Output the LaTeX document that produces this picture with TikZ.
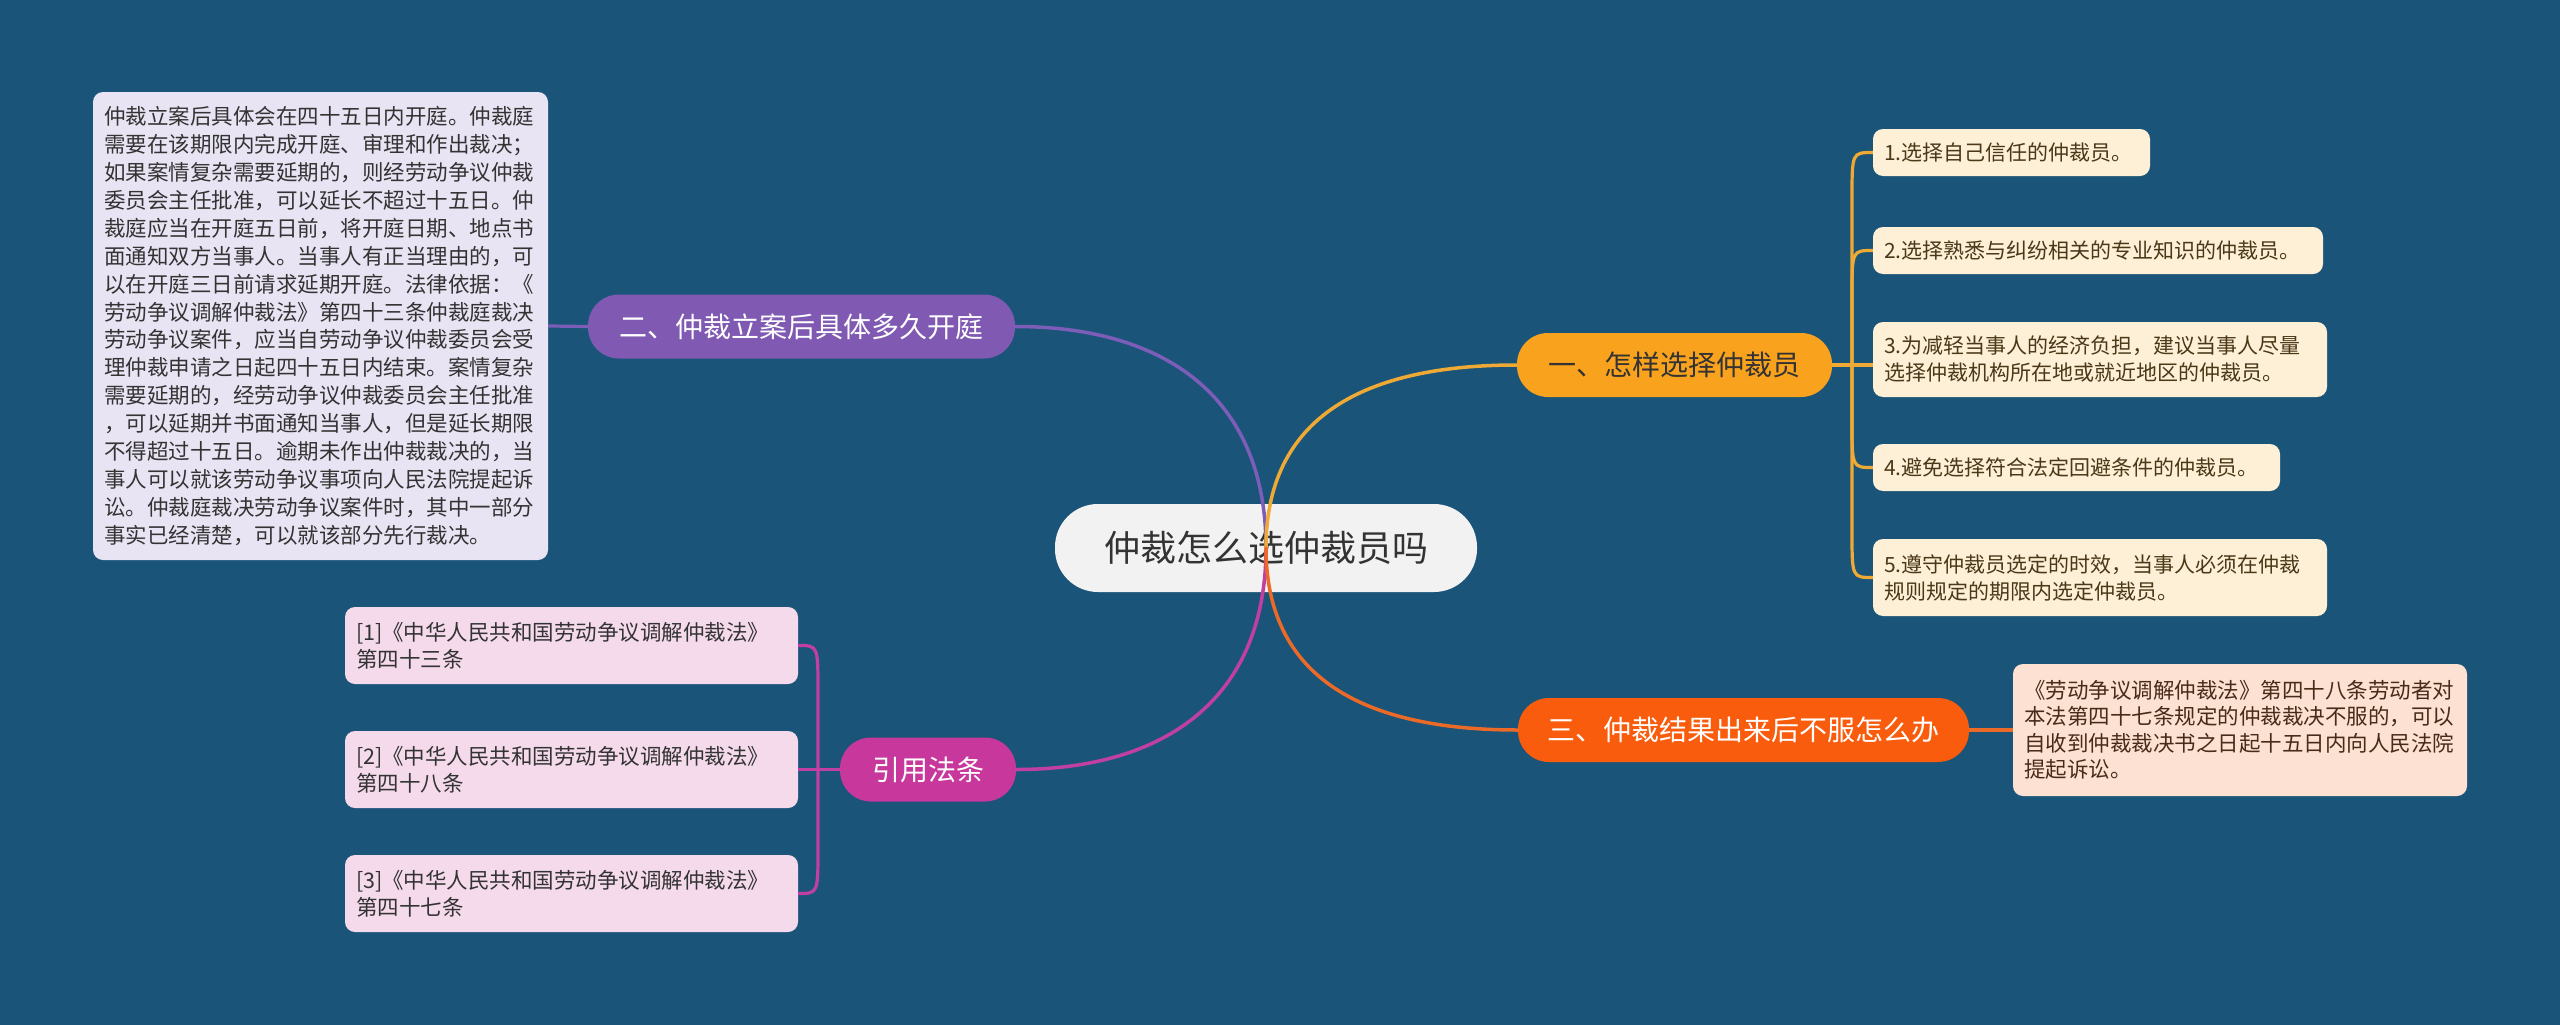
\documentclass[tikz,border=0pt]{standalone}
\usepackage{fontspec}
\setmainfont{Noto Sans CJK SC}
\usetikzlibrary{calc}
\definecolor{bg}{HTML}{1A5478}
\definecolor{rootfill}{HTML}{F2F2F2}
\definecolor{cOrange}{HTML}{F9A21D}
\definecolor{cPurple}{HTML}{7F59B2}
\definecolor{cRed}{HTML}{F95C0C}
\definecolor{cMag}{HTML}{C8379C}
\definecolor{lOrange}{HTML}{EEAA35}
\definecolor{lPurple}{HTML}{7C5DB8}
\definecolor{lRed}{HTML}{EC6A28}
\definecolor{lMag}{HTML}{C23FA2}
\definecolor{fLav}{HTML}{E9E4F3}
\definecolor{fCream}{HTML}{FDF0D6}
\definecolor{fPeach}{HTML}{FDE2D3}
\definecolor{fPink}{HTML}{F5DAEC}
\definecolor{tDark}{HTML}{333333}
\definecolor{tBrown}{HTML}{4A3818}
\definecolor{tRedBrown}{HTML}{4A2A18}
\tikzset{
  root/.style={fill=rootfill, rounded corners=43, minimum width=422, minimum height=88,
    inner sep=0, text=tDark, font=\fontsize{36}{42}\selectfont},
  topic/.style={rounded corners=31, minimum height=64, inner sep=0, text=white,
    font=\fontsize{28}{34}\selectfont},
  leaf/.style={rounded corners=10, inner xsep=11, inner ysep=0, align=left,
    font=\fontsize{21.5}{27}\selectfont},
  mainline/.style={line width=3.5, line cap=round},
  brline/.style={line width=3.2},
  bracketbend/.style={to path={(\tikztostart) -- ($(\tikztostart |- \tikztotarget)!46pt!(\tikztostart)$)
     .. controls (\tikztostart |- \tikztotarget) .. (\tikztotarget)}}
}
\begin{document}
\begin{tikzpicture}[x=1pt,y=1pt]
\fill[bg] (0,0) rectangle (2560,-1025);
\path[use as bounding box] (0,0) rectangle (2560,-1025);

% root and topics
\node[root] (c) at (1266,-548) {仲裁怎么选仲裁员吗};
\node[topic, fill=cOrange, text=tDark, minimum width=315] (t1) at (1674.5,-365) {一、怎样选择仲裁员};
\node[topic, fill=cPurple, minimum width=427] (t2) at (801.5,-326.5) {二、仲裁立案后具体多久开庭};
\node[topic, fill=cRed, minimum width=451] (t3) at (1743.5,-730) {三、仲裁结果出来后不服怎么办};
\node[topic, fill=cMag, minimum width=176] (t4) at (928,-769.5) {引用法条};

% leaves of topic 1
\node[leaf, fill=fCream, text=tBrown, font=\fontsize{21}{27}\selectfont, text width=255, minimum height=47] (L1) at (2011.5,-152.5) {1.选择自己信任的仲裁员。};
\node[leaf, fill=fCream, text=tBrown, font=\fontsize{21}{27}\selectfont, text width=428, minimum height=47] (L2) at (2098,-250.5) {2.选择熟悉与纠纷相关的专业知识的仲裁员。};
\node[leaf, fill=fCream, text=tBrown, font=\fontsize{21}{27}\selectfont, text width=432, minimum height=75] (L3) at (2100,-359.5) {3.为减轻当事人的经济负担，建议当事人尽量\\选择仲裁机构所在地或就近地区的仲裁员。};
\node[leaf, fill=fCream, text=tBrown, font=\fontsize{21}{27}\selectfont, text width=385, minimum height=47] (L4) at (2076.5,-467.5) {4.避免选择符合法定回避条件的仲裁员。};
\node[leaf, fill=fCream, text=tBrown, font=\fontsize{21}{27}\selectfont, text width=432, minimum height=77] (L5) at (2100,-577.5) {5.遵守仲裁员选定的时效，当事人必须在仲裁\\规则规定的期限内选定仲裁员。};

% leaf of topic 2
\node[leaf, fill=fLav, text=tDark, font=\fontsize{21.5}{27.9}\selectfont, text width=433, minimum height=468] (M1) at (320.5,-326) {仲裁立案后具体会在四十五日内开庭。仲裁庭\\需要在该期限内完成开庭、审理和作出裁决；\\如果案情复杂需要延期的，则经劳动争议仲裁\\委员会主任批准，可以延长不超过十五日。仲\\裁庭应当在开庭五日前，将开庭日期、地点书\\面通知双方当事人。当事人有正当理由的，可\\以在开庭三日前请求延期开庭。法律依据：《\\劳动争议调解仲裁法》第四十三条仲裁庭裁决\\劳动争议案件，应当自劳动争议仲裁委员会受\\理仲裁申请之日起四十五日内结束。案情复杂\\需要延期的，经劳动争议仲裁委员会主任批准\\，可以延期并书面通知当事人，但是延长期限\\不得超过十五日。逾期未作出仲裁裁决的，当\\事人可以就该劳动争议事项向人民法院提起诉\\讼。仲裁庭裁决劳动争议案件时，其中一部分\\事实已经清楚，可以就该部分先行裁决。};

% leaf of topic 3
\node[leaf, fill=fPeach, text=tRedBrown, font=\fontsize{21.5}{26.5}\selectfont, text width=432, minimum height=132] (N1) at (2240,-730) {《劳动争议调解仲裁法》第四十八条劳动者对\\本法第四十七条规定的仲裁裁决不服的，可以\\自收到仲裁裁决书之日起十五日内向人民法院\\提起诉讼。};

% leaves of topic 4
\node[leaf, fill=fPink, text=tDark, text width=431, minimum height=77] (R1) at (571.5,-645.5) {[1]《中华人民共和国劳动争议调解仲裁法》\\第四十三条};
\node[leaf, fill=fPink, text=tDark, text width=431, minimum height=77] (R2) at (571.5,-769.5) {[2]《中华人民共和国劳动争议调解仲裁法》\\第四十八条};
\node[leaf, fill=fPink, text=tDark, text width=431, minimum height=77] (R3) at (571.5,-893.5) {[3]《中华人民共和国劳动争议调解仲裁法》\\第四十七条};

% main curves (drawn over the root, as in the reference)
\draw[mainline, lPurple] (c.center) to[out=90,in=0,looseness=1.15] (t2.east);
\draw[mainline, lMag] (c.center) to[out=270,in=0,looseness=1.15] (t4.east);
\draw[mainline, lOrange] (c.center) to[out=90,in=180,looseness=1.15] (t1.west);
\draw[mainline, lRed] (c.center) to[out=270,in=180,looseness=1.15] (t3.west);

% bracket for topic 1
\coordinate (j1) at (1852,-365);
\draw[brline, lOrange] (t1.east) -- (j1);
\foreach \n in {L1,L2,L4,L5} {\draw[brline, lOrange] (j1) to[bracketbend] (\n.west);}
\draw[brline, lOrange] (j1) -- (L3.west |- j1);

% topic 2 and 3 links
\draw[brline, lPurple] (t2.west) -- (M1.east);
\draw[brline, lRed] (t3.east) -- (N1.west);

% bracket for topic 4
\coordinate (j4) at (818,-769.5);
\draw[brline, lMag] (t4.west) -- (j4);
\foreach \n in {R1,R3} {\draw[brline, lMag] (j4) to[bracketbend] (\n.east);}
\draw[brline, lMag] (j4) -- (R2.east);
\end{tikzpicture}
\end{document}
